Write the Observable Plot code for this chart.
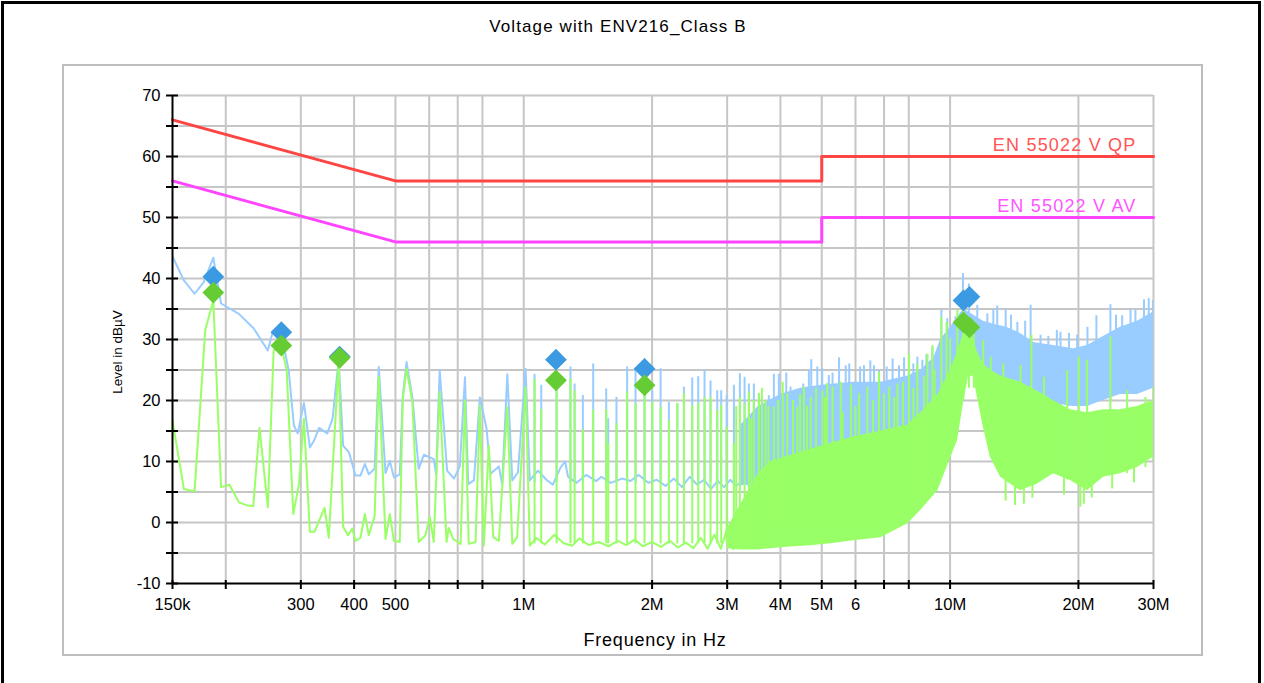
<!DOCTYPE html>
<html><head><meta charset="utf-8">
<script src="https://cdn.jsdelivr.net/npm/d3@7"></script>
<script src="https://cdn.jsdelivr.net/npm/@observablehq/plot@0.6"></script>
<style>
body{margin:0;background:#fff;font-family:"Liberation Sans",Arial,sans-serif;}
#page{position:relative;width:1264px;height:683px;overflow:hidden;}
#frame{position:absolute;left:1px;top:1px;width:1254px;height:720px;border:3px solid #000;}
#panel{position:absolute;left:62px;top:64px;width:1137px;height:588px;border:2px solid #bdbdbd;}
#title{position:absolute;top:17px;left:0;width:1236px;text-align:center;font-size:17px;line-height:20px;letter-spacing:1.1px;}
#xlabel{position:absolute;top:629px;left:0;width:1310px;text-align:center;font-size:18px;line-height:22px;letter-spacing:0.8px;}
#ylabel{position:absolute;left:117px;top:352px;transform:translate(-50%,-50%) rotate(-90deg);font-size:13.5px;white-space:nowrap;}
#chart{position:absolute;left:0;top:0;}
</style></head>
<body>
<div id="page">
  <div id="frame"></div>
  <div id="panel"></div>
  <div id="chart"></div>
  <div id="title">Voltage with ENV216_Class B</div>
  <div id="xlabel">Frequency in Hz</div>
  <div id="ylabel">Level in dBµV</div>
</div>
<script>
// ---- axis data (frequency in MHz) ----
const xGrid = [0.2,0.3,0.4,0.5,0.6,0.7,0.8,1,2,3,4,5,6,7,8,10,20,30];
const xTickVals = [0.15,0.2,0.3,0.4,0.5,0.6,0.7,0.8,1,2,3,4,5,6,7,8,10,20,30];
const xLabelVals = [0.15,0.3,0.4,0.5,0.8,1,2,3,4,5,6,8,10,20,30];
const xLabelText = ["150k","300","400","500","800","1M","2M","3M","4M","5M","6","8","10M","20M","30M"];
const yGrid = [-5,0,5,10,15,20,25,30,35,40,45,50,55,60,65,70];
const yTickVals = [-10,-5,0,5,10,15,20,25,30,35,40,45,50,55,60,65,70];
const yLabelVals = [-10,0,10,20,30,40,50,60,70];

// ---- limit lines ----
const qpLimit = [[0.15,66],[0.5,56],[5,56],[5,60],[30,60]];
const avLimit = [[0.15,56],[0.5,46],[5,46],[5,50],[30,50]];
const limitNames = ["EN 55022 V QP","EN 55022 V AV"];
const limitLabelLevel = [60,50];

// ---- peak (blue) trace: [MHz, dBµV] ----
const peakTrace = [[0.150,43.6],[0.1595,39.7],[0.169,37.5],[0.1776,39.4],[0.187,43.4],[0.195,35.9],[0.2147,34.2],[0.2327,31.8],[0.251,28.2],[0.257,30.9],[0.270,31],[0.281,24.9],[0.289,15.9],[0.295,14.6],[0.305,19.6],[0.315,12.3],[0.322,13.4],[0.331,15.5],[0.346,14.6],[0.356,17.0],[0.368,26.6],[0.377,12.6],[0.389,11.5],[0.403,7.7],[0.414,7.7],[0.424,9.6],[0.433,7.9],[0.447,8.8],[0.457,25.5],[0.474,8.1],[0.485,10.1],[0.496,7.4],[0.512,7.9],[0.520,20.5],[0.531,26.3],[0.548,20.5],[0.567,8.8],[0.583,11.1],[0.615,10.4],[0.623,7.9],[0.635,25.0],[0.661,8.5],[0.686,7.2],[0.708,9.2],[0.728,23.8],[0.741,6.3],[0.764,6.9],[0.789,20.5],[0.818,15.4],[0.836,8.0],[0.874,9.2],[0.890,6.3],[0.915,24.3],[0.940,6.9],[0.969,8.2],[1.010,25.2],[1.033,6.9],[1.08,8.5],[1.13,7.0],[1.17,6.2],[1.22,9.0],[1.25,10.0],[1.27,7.5],[1.33,6.5],[1.40,7.8],[1.48,6.8],[1.52,7.5],[1.60,6.5],[1.70,7.2],[1.78,6.8],[1.86,7.8],[1.96,6.5],[2.05,7.0],[2.15,6.0],[2.25,7.2],[2.35,5.8],[2.45,7.5],[2.55,6.2],[2.65,7.0],[2.75,5.5],[2.85,6.8],[2.95,5.8],[3.05,7.0],[3.15,6.0],[3.25,6.8],[3.4,6.0],[3.56,6.5]];
// peak spikes: [MHz, top, base]
const peakSpikes = [[1.060,24.3,6.5],[1.099,22.5,6.5],[1.194,26.5,6.5],[1.287,25.5,6.5],[1.316,22.7,6.5],[1.376,20.8,6.5],[1.455,26.0,6.5],[1.561,21.9,6.5],[1.578,17,6.5],[1.650,20.5,6.5],[1.748,25.5,6.5],[1.829,24.9,6.5],[1.920,25.0,6.5],[2.002,21.6,6.5],[2.094,25.2,6.5],[2.190,19.7,6.5],[2.292,19.5,6.5],[2.375,22.2,6.5],[2.484,23.7,6.5],[2.566,23.9,6.5],[2.655,24.9,6.5],[2.742,23.2,6.5],[2.843,21.6,6.5],[2.905,21.6,6.5],[2.991,20.8,6.5],[3.111,22.5,6.5],[3.213,24.4,6.5],[3.296,23.8,6.5],[3.373,22.7,6.5],[3.465,22.7,6.5],[3.560,21.1,6.5],[3.757,20.8,8],[3.860,24.3,8],[3.966,24.3,8],[4.128,24.5,8],[4.225,22.2,8],[4.380,21.6,8],[4.525,22.7,8],[4.664,24.9,8],[4.725,26.7,8],[4.881,25.5,8],[5.013,25.2,8],[5.195,24.1,9],[5.3,24.5,9],[5.49,27.0,9],[5.69,25.7,9],[5.8,26.0,9],[6.15,25.5,10],[6.28,25.7,10],[6.5,26.5,10],[6.63,25.7,10],[6.81,24.9,10],[7.1,25.5,10],[7.33,26.8,11],[7.59,25.7,11],[7.8,27.0,11],[8.01,26.3,11],[8.2,26.0,11],[8.38,27.1,12],[8.61,26.6,12],[8.8,27.5,12],[9.09,28.7,14],[9.34,26.0,16],[9.54,34.8,18],[9.85,33.4,20],[10.30,33.7,24],[10.72,40.8,26],[11.07,39.1,26],[11.58,35.6,25],[12.23,34.2,24],[12.63,34.9,23],[12.9,35.5,23],[13.50,34.9,22],[13.9,34.0,22],[14.38,32.8,22],[15.0,33.0,21],[15.45,35.6,20],[16.30,30.7,20],[17.0,30.5,20],[17.8,31.5,19],[18.15,31.2,19],[19.0,31.0,19],[19.86,30.7,19],[21.0,32.0,19],[22.04,33.9,20],[23.77,35.7,20],[24.5,34.0,21],[25.33,33.9,21],[26.5,35.0,21],[27.21,34.8,21],[28.5,36.5,22],[29.24,36.7,22],[29.9,36.4,22]];
// peak dense band: [MHz, low, high]
const peakBand = [[3.23,6,16],[3.55,6.5,19],[4.0,7,21],[4.46,7.5,22],[5.0,8,22.5],[5.94,9,23],[6.88,10,23],[7.96,11,24],[8.54,12,25],[9.16,14,27],[9.50,18,30],[10.02,22,32],[10.75,26,35],[11.34,26,34],[11.97,24,33],[12.65,23,32.5],[13.58,22.5,32],[14.63,22,31],[15.70,20,29.5],[17.47,19.5,29],[19.47,19,28.5],[21.0,19,29],[22.89,20,30.5],[25.09,21,32],[27.51,21,33],[30.0,22,34.5]];

// ---- average (green) trace ----
const avgTrace = [[0.150,16.7],[0.1595,5.5],[0.169,5.1],[0.179,31.5],[0.187,36.4],[0.195,5.8],[0.204,6.2],[0.2147,3.3],[0.2245,2.8],[0.232,2.7],[0.240,15.5],[0.251,2.5],[0.259,28.2],[0.270,29.0],[0.278,24.9],[0.288,1.4],[0.297,6.3],[0.305,17.0],[0.315,-1.5],[0.323,-1.5],[0.341,2.4],[0.349,-2.5],[0.368,26.5],[0.377,-0.7],[0.387,-2.1],[0.396,-1.0],[0.403,-3.0],[0.414,-2.5],[0.424,1.4],[0.433,-2.1],[0.447,1.1],[0.457,23.9],[0.474,-2.7],[0.485,1.4],[0.496,-3.0],[0.512,-3.2],[0.520,20.0],[0.531,25.2],[0.548,19.7],[0.567,-3.2],[0.588,-2.1],[0.602,0.9],[0.615,-3.2],[0.635,21.4],[0.659,-3.2],[0.667,-0.9],[0.683,-2.7],[0.711,-3.5],[0.728,20.0],[0.743,-3.5],[0.771,-3.2],[0.789,19.2],[0.806,-3.8],[0.828,12.6],[0.848,-2.4],[0.874,-3.0],[0.915,18.9],[0.940,-3.5],[0.965,-2.4],[1.010,22.2],[1.033,-3.8],[1.07,-2.5],[1.12,-3.6],[1.18,-2.0],[1.24,-3.4],[1.30,-3.8],[1.35,-2.6],[1.42,-3.7],[1.50,-3.2],[1.58,-3.9],[1.66,-3.0],[1.74,-3.7],[1.82,-2.8],[1.90,-3.9],[2.0,-3.2],[2.1,-4.0],[2.2,-3.0],[2.3,-4.1],[2.4,-3.3],[2.5,-4.2],[2.6,-2.5],[2.7,-4.3],[2.8,-2.0],[2.9,-4.3],[3.0,-1.0],[3.1,-4.4],[3.22,0]];
const avgSpikes = [[1.060,23.5,-3.5],[1.099,18.5,-3.5],[1.194,23.0,-3.5],[1.287,23.5,-3.5],[1.316,21.6,-3.5],[1.376,15.1,-3.5],[1.455,18.4,-3.5],[1.561,18.5,-3.5],[1.578,12.9,-3.5],[1.650,16.2,-3.5],[1.748,21.4,-3.5],[1.829,19.5,-3.5],[1.920,21.5,-3.5],[2.002,19.7,-3.5],[2.094,18.9,-3.5],[2.190,16.7,-3.5],[2.292,19.5,-3.5],[2.375,21.1,-3.5],[2.484,19.2,-3.5],[2.566,19.5,-3.5],[2.655,20.5,-3.5],[2.742,20.5,-3.5],[2.843,18.4,-3.5],[2.905,19.2,-3.5],[2.991,15.6,-3.5],[3.111,12.9,-3.5],[3.15,19.0,-3.5],[3.213,20.5,-3.5],[3.296,19.5,-3.5],[3.373,21.4,-3.5],[3.42,17.0,-3.5],[3.465,20.0,-3.5],[3.560,21.1,-3.5],[3.62,22.0,0],[3.69,20.0,0],[3.75,19.0,0],[3.86,18.9,0],[3.95,20.0,0],[4.05,23.0,0],[4.15,21.1,0],[4.28,20.0,0],[4.38,18.9,0],[4.45,21.0,0],[4.54,22.2,0],[4.62,19.0,0],[4.71,20.5,0],[4.85,22.0,0],[5.02,21.6,0],[5.09,20.5,0],[5.15,22.8,0],[5.30,22.2,0],[5.54,23.0,0],[5.6,18.0,0],[5.85,22.5,0],[6.0,19.0,0],[6.12,21.1,0],[6.40,22.2,0],[6.6,20.0,0],[6.81,24.6,0],[7.0,21.1,0],[7.2,22.2,0],[7.4,20.5,0],[7.53,22.7,0],[7.76,23.0,0],[8.01,27.6,2],[8.2,22.0,2],[8.38,26.0,3],[8.7,24.0,3],[8.85,27.6,4],[9.09,29.0,5],[9.2,25.0,5],[9.54,33.7,8],[9.81,32.8,10],[10.0,30.1,12],[10.40,34.8,15],[10.74,38.0,20],[11.07,32.3,22],[11.37,30.9,22],[11.96,29.8,16],[12.45,27.1,11],[13.33,26.0,8],[14.63,25.7,7],[15.51,30.7,7],[16.60,23.8,8],[18.82,24.9,7],[20.03,27.1,7],[20.96,26.6,7],[23.77,30.4,8],[26.02,21.6,8],[28.72,20.5,9],[29.95,22.2,10]];
// downward dips below the average band: [MHz, bottom, top]
const avgDips = [[13.5,3.5,8],[14.2,2.8,7],[14.9,3.0,7],[15.6,4.0,8],[18.5,4.5,8],[20.2,2.5,7],[20.6,3.0,7],[21.5,4.0,8],[24.0,5.5,9],[27.0,6.5,10]];
const avgBand = [[3.00,-4.3,-1],[3.23,-4.5,3],[3.55,-4.5,8],[3.79,-4.3,10],[4.22,-4.0,11],[4.71,-3.8,12],[5.25,-3.5,13],[5.94,-3.0,14],[6.88,-2.5,15],[7.96,-0.2,16],[8.54,2.0,18],[9.36,5.2,21],[10.02,10.5,25],[10.41,13.4,28],[10.75,19.5,31],[11.04,23.8,32],[11.34,24.0,30],[11.59,20.5,28],[11.97,15.6,26],[12.43,10.7,25],[13.14,7.4,24],[14.63,5.2,23],[16.04,6.3,21.5],[17.47,8.0,20],[19.15,6.9,18.5],[21.0,5.2,18],[22.89,7.4,18.5],[25.09,8.0,18.5],[27.51,9.0,19],[30.0,10.7,20]];

// ---- final measurement markers ----
const peakMarks = [[0.187,40.3],[0.270,31.2],[0.370,27.2],[1.19,26.7],[1.92,25.2],[10.75,36.4],[11.1,37.0]];
const avgMarks  = [[0.187,37.7],[0.270,29.0],[0.370,27.0],[1.19,23.3],[1.92,22.5],[10.75,32.8],[11.1,32.0]];

const blue = "#99ccff", green = "#99ff66";
const X = d => d[0], Y = d => d[1];
const xLabelMap = new Map(xLabelVals.map((v,i) => [v, xLabelText[i]]));

const chart = Plot.plot({
  width: 1264, height: 683,
  marginLeft: 172, marginRight: 111, marginTop: 95, marginBottom: 100,
  style: {background: "transparent", overflow: "visible", fontFamily: "'Liberation Sans', Arial, sans-serif", fontSize: "16px", color: "#000"},
  x: {type: "log", domain: [0.15, 30]},
  y: {domain: [-10, 70]},
  marks: [
    Plot.ruleX(xGrid, {stroke: "#c6c6c6", strokeWidth: 2}),
    Plot.ruleY(yGrid, {stroke: "#c6c6c6", strokeWidth: 2}),
    Plot.areaY(peakBand, {x: X, y1: d => d[1], y2: d => d[2], fill: blue, clip: true}),
    Plot.ruleX(peakSpikes, {x: X, y1: d => d[2], y2: d => d[1], stroke: blue, strokeWidth: 2, clip: true}),
    Plot.line(peakTrace, {x: X, y: Y, stroke: blue, strokeWidth: 2, clip: true}),
    Plot.areaY(avgBand, {x: X, y1: d => d[1], y2: d => d[2], fill: green, clip: true}),
    Plot.ruleX(avgSpikes, {x: X, y1: d => d[2], y2: d => d[1], stroke: green, strokeWidth: 2, clip: true}),
    Plot.ruleX(avgDips, {x: X, y1: d => d[1], y2: d => d[2], stroke: green, strokeWidth: 2, clip: true}),
    Plot.line(avgTrace, {x: X, y: Y, stroke: green, strokeWidth: 2, clip: true}),
    Plot.line(qpLimit, {x: X, y: Y, stroke: "#ff4444", strokeWidth: 3}),
    Plot.line(avLimit, {x: X, y: Y, stroke: "#ff44ff", strokeWidth: 3}),
    Plot.text([limitNames[0]], {x: () => 30, y: () => limitLabelLevel[0], text: d => d, fill: "#ff5555", fontSize: 18, textAnchor: "end", dx: -17, dy: -11}),
    Plot.text([limitNames[1]], {x: () => 30, y: () => limitLabelLevel[1], text: d => d, fill: "#ff55ff", fontSize: 18, textAnchor: "end", dx: -17, dy: -11}),
    Plot.dot(peakMarks, {x: X, y: Y, symbol: "diamond2", r: 9.8, fill: "#3b9ae1"}),
    Plot.dot(avgMarks, {x: X, y: Y, symbol: "diamond2", r: 9.8, fill: "#66cc33"}),
    Plot.ruleX([0.15], {stroke: "#000", strokeWidth: 2}),
    Plot.ruleY([-10], {stroke: "#000", strokeWidth: 2}),
    Plot.axisX(xTickVals, {tickSize: 9, dy: -3, tickFormat: () => "", label: null, strokeWidth: 2}),
    Plot.axisX(xLabelVals, {tickSize: 0, tickPadding: 15, tickFormat: d => xLabelMap.get(d), label: null}),
    Plot.axisY(yTickVals, {tickSize: 12, dx: 6, tickFormat: () => "", label: null, strokeWidth: 2}),
    Plot.axisY(yLabelVals, {tickSize: 0, tickPadding: 12, tickFormat: d => String(d), label: null})
  ]
});
chart.querySelectorAll("text").forEach(t => {
  if (t.textContent.startsWith("EN ")) {
    t.style.letterSpacing = "1.2px";
  } else {
    t.style.fontSize = "16.5px";
  }
});
document.getElementById("chart").appendChild(chart);
</script>
</body></html>
